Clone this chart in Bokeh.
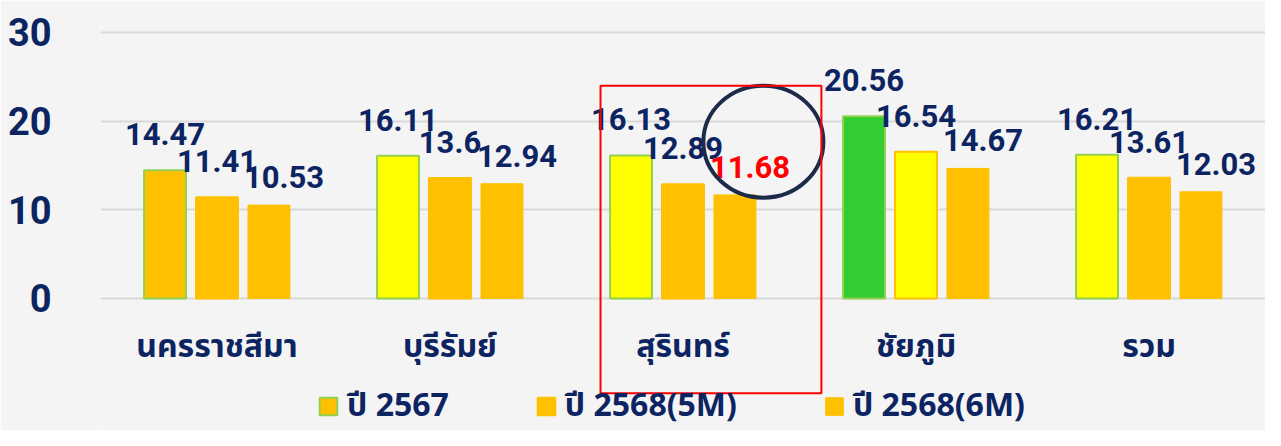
from bokeh.plotting import figure
from bokeh.models import (ColumnDataSource, FactorRange, Range1d, FixedTicker,
                          Legend, LegendItem, BoxAnnotation)
from bokeh.transform import dodge
from bokeh.core.properties import value
from bokeh.embed import file_html
from bokeh.resources import INLINE

# ---------------- data ----------------
provinces = ["นครราชสีมา", "บุรีรัมย์", "สุรินทร์", "ชัยภูมิ", "รวม"]
series_names = ["ปี 2567", "ปี 2568(5M)", "ปี 2568(6M)"]
y2567 = [14.47, 16.11, 16.13, 20.56, 16.21]
y2568_5m = [11.41, 13.6, 12.89, 16.54, 13.61]
y2568_6m = [10.53, 12.94, 11.68, 14.67, 12.03]
y_ticks = [0, 10, 20, 30]
highlight = "สุรินทร์"

# ---------------- styles ----------------
NAVY = "#0C2461"
YEL = "#FFFF00"
ORA = "#FFC000"
GRN = "#33CC33"
LGRN = "#92D050"
BG = "#F4F4F5"
fill_2567 = [ORA, YEL, YEL, GRN, YEL]
fill_5m = [ORA, ORA, ORA, YEL, ORA]
fill_6m = [ORA] * 5
lbl_6m_color = ["#FF0000" if p == highlight else NAVY for p in provinces]
NUM_FONT = value("Roboto")
THAI_FONT = "Noto Sans Thai, Noto Sans Thai UI, Loma, Garuda, Noto Sans, sans-serif"

src = ColumnDataSource(dict(
    prov=provinces, a=y2567, b=y2568_5m, c=y2568_6m,
    fa=fill_2567, fb=fill_5m, fc=fill_6m,
    ta=[f"{v:g}" for v in y2567], tb=[f"{v:g}" for v in y2568_5m],
    tc=[f"{v:g}" for v in y2568_6m], cc=lbl_6m_color,
))

p = figure(width=1265, height=430, x_range=FactorRange(*provinces, range_padding=0),
           y_range=Range1d(-14.89, 32.48), output_backend="svg", toolbar_location=None,
           min_border_left=100, min_border_right=0, min_border_top=10, min_border_bottom=0)
p.background_fill_color = BG
p.border_fill_color = BG
p.outline_line_color = None

OFF = 0.223
BW = 0.18
ra = p.vbar(x=dodge("prov", -OFF, range=p.x_range), top="a", width=BW, source=src,
            fill_color="fa", line_color=LGRN, line_width=2)
rb = p.vbar(x=dodge("prov", 0, range=p.x_range), top="b", width=BW, source=src,
            fill_color="fb", line_color=ORA, line_width=2)
rc = p.vbar(x=dodge("prov", OFF, range=p.x_range), top="c", width=BW, source=src,
            fill_color="fc", line_color=ORA, line_width=1)

common = dict(text_font=NUM_FONT, text_font_style="bold", text_font_size="31px",
              text_align="center", text_baseline="alphabetic", source=src)
p.text(x=dodge("prov", -OFF, range=p.x_range), y="a", text="ta", y_offset=-36,
       text_color=NAVY, **common)
p.text(x=dodge("prov", 0, range=p.x_range), y="b", text="tb", y_offset=-36,
       text_color=NAVY, **common)
p.text(x=dodge("prov", OFF, range=p.x_range), y="c", text="tc", y_offset=-28,
       x_offset=15, text_color="cc", **common)

# highlight box + circle
hi = provinces.index(highlight)
hv = y2568_6m[hi]
p.add_layout(BoxAnnotation(left=hi + 0.5 - 0.354, right=hi + 0.5 + 0.594,
                           top=24.0, bottom=-10.7, fill_alpha=0,
                           line_color="#FF0000", line_alpha=1, line_width=2))
p.ellipse(x=[hi + 0.5 + OFF + 0.122], y=[hv + 6.0], width=120, height=112,
          width_units="screen", height_units="screen", fill_color=None,
          line_color="#1C2B4A", line_width=4)

# axes
p.yaxis.ticker = FixedTicker(ticks=y_ticks)
p.yaxis.axis_line_color = None
p.yaxis.major_tick_line_color = None
p.yaxis.minor_tick_line_color = None
p.yaxis.major_label_standoff = 43
p.yaxis.major_label_text_font = "Roboto"
p.yaxis.major_label_text_font_style = "bold"
p.yaxis.major_label_text_font_size = "38px"
p.yaxis.major_label_text_color = NAVY

p.xaxis.fixed_location = 0
p.xaxis.axis_line_color = None
p.xaxis.major_tick_line_color = None
p.xaxis.major_label_standoff = 19
p.xaxis.major_label_text_font = THAI_FONT
p.xaxis.major_label_text_font_style = "bold"
p.xaxis.major_label_text_font_size = "32px"
p.xaxis.major_label_text_color = NAVY

p.xgrid.grid_line_color = None
p.ygrid.grid_line_color = "#D9D9D9"
p.ygrid.grid_line_width = 2

legend = Legend(items=[LegendItem(label=series_names[0], renderers=[ra]),
                       LegendItem(label=series_names[1], renderers=[rb]),
                       LegendItem(label=series_names[2], renderers=[rc])],
                orientation="horizontal", location=(217, 0),
                background_fill_alpha=0, border_line_color=None,
                padding=0, margin=0, spacing=86, label_standoff=8,
                glyph_width=22, glyph_height=22,
                label_text_font=THAI_FONT, label_text_font_style="bold",
                label_text_font_size="32px", label_text_color=NAVY)
p.add_layout(legend)

open("out.html", "w").write(file_html(p, INLINE))
